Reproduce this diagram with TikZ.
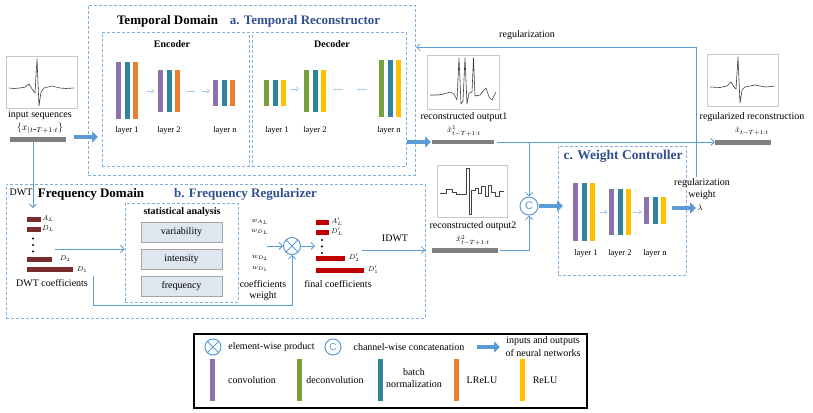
\documentclass[tikz,border=0pt]{standalone}
\usepackage{fontspec}
\setmainfont{Liberation Serif}
\newfontfamily\csans{Liberation Sans}
\usetikzlibrary{arrows.meta,calc}
\definecolor{dashblue}{HTML}{7FB0DE}
\definecolor{arrowblue}{HTML}{5B9BD5}
\definecolor{lightarrow}{HTML}{A9CBEA}
\definecolor{titleblue}{HTML}{2F4F8F}
\definecolor{cpurple}{HTML}{8B72A8}
\definecolor{cteal}{HTML}{31849B}
\definecolor{corange}{HTML}{ED7D31}
\definecolor{cyellow}{HTML}{FFC000}
\definecolor{cgreen}{HTML}{79A03F}
\definecolor{darkred}{HTML}{7B2C2C}
\definecolor{cred}{HTML}{C00000}
\definecolor{grayseq}{HTML}{808080}
\definecolor{statfill}{HTML}{DEE6F0}
\definecolor{imgborder}{HTML}{C8C8C8}
\newcommand\threebars[6]{%
  \fill[#4] (#1,#2) rectangle (#1+4.8,#3);
  \fill[#5] (#1+8.7,#2) rectangle (#1+13.5,#3);
  \fill[#6] (#1+17.4,#2) rectangle (#1+22.2,#3);}
\begin{document}
\begin{tikzpicture}[x=1pt,y=-1pt,
  dbox/.style={draw=dashblue,line width=0.9pt,dash pattern=on 3pt off 2pt},
  fat/.style={draw=arrowblue,line width=4.5pt,-{Triangle[length=6pt,width=11pt]}},
  conn/.style={draw=arrowblue,line width=0.8pt,-{Straight Barb[length=3.5pt,width=7pt]}},
  lconn/.style={draw=lightarrow,line width=0.7pt,-{Straight Barb[length=2.5pt,width=4pt]}},
  ldash/.style={draw=lightarrow,line width=0.7pt},
  lab/.style={font=\fontsize{10}{11}\selectfont,inner sep=0},
  small/.style={font=\fontsize{8.5}{9}\selectfont,inner sep=0},
  title/.style={font=\fontsize{13}{14}\selectfont\bfseries,inner sep=0},
  btitle/.style={title,text=titleblue},
  sub/.style={font=\fontsize{10}{11}\selectfont\bfseries,inner sep=0},
  imgbox/.style={draw=imgborder,line width=0.7pt,fill=white,inner sep=0},
  seqbar/.style={fill=grayseq,inner sep=0,minimum height=4.5pt},
  ecg/.style={draw=black!75,line width=0.6pt,line join=round},
  statbox/.style={draw=black!35,fill=statfill,line width=0.7pt,minimum width=81pt,minimum height=20pt,inner sep=0,font=\fontsize{10}{11}\selectfont},
  coef/.style={font=\fontsize{7.5}{8}\selectfont,inner sep=0},
  hat/.style={font=\fontsize{8.5}{9}\selectfont,inner sep=0},
  sym/.style={circle,draw=arrowblue,line width=1pt,inner sep=0},
]
\useasboundingbox (0,0) rectangle (813,412);

% ---------------- Temporal domain ----------------
\node[dbox,minimum width=327pt,minimum height=170pt,inner sep=0] (tdom) at (251.5,90) {};
\node[title] (ttitle) at (167.5,21) {Temporal Domain};
\node[btitle] (atitle) at (305,21) {a. Temporal Reconstructor};
\node[dbox,minimum width=147pt,minimum height=134pt,inner sep=0] (enc) at (175.5,99) {};
\node[dbox,minimum width=154pt,minimum height=134pt,inner sep=0] (dec) at (329,99) {};
\node[sub] (enct) at (172,44) {Encoder};
\node[sub] (dect) at (332,44) {Decoder};

% encoder layers
\threebars{116}{62}{119}{cpurple}{cteal}{corange}
\threebars{158}{70}{112}{cpurple}{cteal}{corange}
\threebars{213}{80}{106}{cpurple}{cteal}{corange}
\node[small] (e1) at (127,130) {layer 1};
\node[small] (e2) at (169,130) {layer 2};
\node[small] (en) at (225,130) {layer n};
\coordinate (ea1) at (147,91); \coordinate (ea2) at (154.5,91);
\coordinate (ea3) at (186,91); \coordinate (ea4) at (195,91);
\coordinate (ea5) at (202,91); \coordinate (ea6) at (210,91);
\draw[lconn] (ea1) -- (ea2);
\draw[ldash] (ea3) -- (ea4);
\draw[lconn] (ea5) -- (ea6);

% decoder layers
\threebars{264}{80}{106}{cgreen}{cteal}{cyellow}
\threebars{304}{70}{112}{cgreen}{cteal}{cyellow}
\threebars{379}{60}{117}{cgreen}{cteal}{cyellow}
\node[small] (d1) at (277,130) {layer 1};
\node[small] (d2) at (315,130) {layer 2};
\node[small] (dn) at (389,130) {layer n};
\coordinate (da1) at (290,89); \coordinate (da2) at (299,89);
\coordinate (da3) at (333,89); \coordinate (da4) at (343,89);
\coordinate (da5) at (357,89); \coordinate (da6) at (367,89);
\draw[lconn] (da1) -- (da2);
\draw[ldash] (da3) -- (da4);
\draw[ldash] (da5) -- (da6);

% ---------------- input sequences ----------------
\node[imgbox,minimum width=71pt,minimum height=52pt] (inimg) at (41.5,82) {};
\draw[ecg] (9,88) -- (14,88.5) -- (20,88) -- (25,87) -- (29,84) -- (32,89) -- (35,93) -- (37,59) -- (39,106) -- (41,92) -- (44,88) -- (48,87) -- (52,86) -- (56,87) -- (60,88) -- (66,88.5) -- (74,88);
\node[lab] (inl) at (40,115) {input sequences};
\node[lab] (inm) at (40,128.5) {$\{x_{|t\mbox{-}T+1:t}\}$};
\node[seqbar,minimum width=56pt] (inbar) at (38,139.5) {};
\coordinate (inar1) at (74,137);
\coordinate (inar2) at (98,137);
\draw[fat] (inar1) -- (inar2);
\coordinate (dwtdown) at (33,208);
\draw[conn] (inbar.south -| dwtdown) -- (dwtdown);

% ---------------- reconstructed output 1 ----------------
\node[imgbox,minimum width=72pt,minimum height=54pt] (o1img) at (463,82) {};
\draw[ecg] (430,95) -- (438,95) -- (444,94) -- (450,92) -- (454,94) -- (457,100) -- (459,58) -- (461,104) -- (463,101) -- (465,58) -- (467,104) -- (469,93) -- (472,92) -- (473.5,58) -- (475,96) -- (480,95) -- (484,90) -- (486,88) -- (489,97) -- (492,100) -- (496,92);
\node[lab] (o1l) at (464,117) {reconstructed output1};
\node[hat] (o1m) at (464,131) {$\hat{x}^{1}_{t-T+1:t}$};
\node[seqbar,minimum width=62pt] (o1bar) at (463,142) {};
\coordinate (decout1) at (407,142);
\coordinate (decout2) at (431,142);
\draw[fat] (decout1) -- (decout2);

% ---------------- regularized reconstruction ----------------
\node[imgbox,minimum width=71pt,minimum height=52pt] (rimg) at (742.5,80) {};
\draw[ecg] (710,87) -- (720,87.5) -- (727,86) -- (731,82) -- (734,87) -- (736,89) -- (738,57) -- (740,103) -- (742,90) -- (745,87) -- (750,86) -- (755,85) -- (760,86) -- (766,87) -- (775,86);
\node[lab] (rl) at (752,117) {regularized reconstruction};
\node[hat] (rm) at (752,131) {$\hat{x}_{t-T+1:t}$};
\node[seqbar,minimum width=56pt] (rbar) at (743,142.5) {};
\draw[conn] (o1bar.east) ++(3,0) coordinate (o1e) -- (rbar.west |- o1bar.east);

% ---------------- reconstructed output 2 ----------------
\node[imgbox,minimum width=70pt,minimum height=52pt] (o2img) at (472,191) {};
\draw[ecg] (440,193) -- (446,193) -- (446,189) -- (452,189) -- (452,192) -- (456,192) -- (456,194) -- (466,194) -- (466,168) -- (469,168) -- (469,214) -- (471,214) -- (471,190) -- (475,190) -- (475,188) -- (478,188) -- (478,193) -- (481,193) -- (481,186) -- (485,186) -- (485,196) -- (488,196) -- (488,185) -- (491,185) -- (491,192) -- (495,192) -- (495,196) -- (499,196) -- (499,191) -- (504,191);
\node[lab] (o2l) at (473,226) {reconstructed output2};
\node[hat] (o2m) at (473,240.5) {$\hat{x}^{2}_{t-T+1:t}$};
\node[seqbar,minimum width=66pt] (o2bar) at (465,250.5) {};

% concat
\node[sym,minimum size=18pt,text=arrowblue,font=\csans\fontsize{11}{11}\selectfont] (cc) at (529,206) {C};
\coordinate (br) at (529,142);
\draw[conn] (br) -- (cc.north);
\draw[conn] (o2bar.east) ++(2,0) -| (cc.south);

% ---------------- weight controller ----------------
\node[dbox,minimum width=128pt,minimum height=129pt,inner sep=0] (wc) at (622,210.5) {};
\node[btitle,font=\fontsize{13.5}{14}\selectfont\bfseries] (ctitle) at (623,156) {c. Weight Controller};
\threebars{573}{183}{241}{cpurple}{cteal}{cyellow}
\threebars{609}{189}{235}{cpurple}{cteal}{cyellow}
\threebars{644}{197}{224}{cpurple}{cteal}{cyellow}
\node[small] (w1) at (586,253) {layer 1};
\node[small] (w2) at (620,253) {layer 2};
\node[small] (wn) at (655,253) {layer n};
\coordinate (wa1) at (600,212); \coordinate (wa2) at (607.5,212);
\coordinate (wa3) at (633,212); \coordinate (wa4) at (642,212);
\draw[lconn] (wa1) -- (wa2);
\draw[lconn] (wa3) -- (wa4);
\coordinate (wcin) at (563,206);
\draw[fat] (cc.east) -- (wcin);
\coordinate (wco1) at (672,208);
\coordinate (wco2) at (696,208);
\draw[fat] (wco1) -- (wco2);
\node[lab] (rw1) at (702,183) {regularization};
\node[lab] (rw2) at (702,195) {weight};
\node[hat] (lam) at (700,208) {$\lambda$};

% feedback
\coordinate (fb1) at (696,177);
\coordinate (fb2) at (416,47);
\draw[conn] (fb1) |- (fb2);
\node[lab] (regl) at (527,35) {regularization};

% ---------------- frequency domain ----------------
\node[dbox,minimum width=419pt,minimum height=134pt,inner sep=0] (fdom) at (215.5,251) {};
\node[lab] (dwtl) at (21,192.5) {DWT};
\node[title] (ftitle) at (91,194) {Frequency Domain};
\node[btitle] (btitle) at (245.5,194) {b. Frequency Regularizer};

% statistical analysis
\node[dbox,minimum width=113pt,minimum height=99pt,inner sep=0] (stat) at (181.5,252.5) {};
\node[sub] (statl) at (182,212) {statistical analysis};
\node[statbox] (var) at (181.5,232) {variability};
\node[statbox] (int) at (181.5,259) {intensity};
\node[statbox] (fre) at (181.5,286.5) {frequency};

% DWT coefficients
\fill[darkred] (27,217) rectangle (41,221.5);
\fill[darkred] (27,227) rectangle (41,231.5);
\fill[black] (33,238.5) circle (1.2) (33,245) circle (1.2) (33,251.5) circle (1.2);
\fill[darkred] (27,257) rectangle (52,261.5);
\fill[darkred] (27,267) rectangle (73,271.5);
\node[coef] (al) at (48,218.5) {$A_L$};
\node[coef] (dl) at (48,228.5) {$D_L$};
\node[coef] (d2) at (65,259) {$D_2$};
\node[coef] (d1) at (82,270) {$D_1$};
\node[lab] (dwtc) at (52,283) {DWT coefficients};
\coordinate (dc1) at (55,249);
\draw[conn] (dc1) -- (stat.west |- dc1);

% weights and product
\node[coef] (wal) at (260,222) {$w_{A_L}$};
\node[coef] (wdl) at (260,232) {$w_{D_L}$};
\node[coef] (wd2) at (260,258) {$w_{D_2}$};
\node[coef] (wd1) at (260,269) {$w_{D_1}$};
\node[lab] (cw1) at (263,284) {coefficients};
\node[lab] (cw2) at (263,296) {weight};
\node[sym,minimum size=17pt] (ot) at (292,246) {};
\draw[arrowblue,line width=1pt] (ot.north east) -- (ot.south west) (ot.north west) -- (ot.south east);
\coordinate (win) at (267,246);
\draw[conn] (win) -- (ot.west);
\coordinate (dd1) at (93,276);
\draw[conn] (dd1) -- (93,305) -| (ot.south);
\coordinate (fin) at (315,246);
\draw[conn] (ot.east) -- (fin);

% final coefficients
\fill[cred] (316,220) rectangle (329,224.5);
\fill[cred] (316,230) rectangle (329,234.5);
\fill[black] (322,240) circle (1.2) (322,246.5) circle (1.2) (322,253) circle (1.2);
\fill[cred] (316,256) rectangle (345,260.5);
\fill[cred] (316,268) rectangle (364,272.5);
\node[coef] (fal) at (337,222) {$A'_L$};
\node[coef] (fdl) at (337,232) {$D'_L$};
\node[coef] (fd2) at (354,258) {$D'_2$};
\node[coef] (fd1) at (373,270) {$D'_1$};
\node[lab] (finl) at (338,284) {final coefficients};
\node[lab] (idwt) at (395,238) {IDWT};
\coordinate (id1) at (362,250);
\draw[conn] (id1) -- (fdom.east |- id1);

% ---------------- legend ----------------
\node[draw=black,line width=1.3pt,minimum width=393pt,minimum height=74pt,inner sep=0] (leg) at (390.5,371) {};
\node[sym,minimum size=16pt] (lot) at (213,347) {};
\draw[arrowblue,line width=1pt] (lot.north east) -- (lot.south west) (lot.north west) -- (lot.south east);
\node[lab] (lotl) at (271.5,347) {element-wise product};
\node[sym,minimum size=16pt,text=arrowblue,font=\csans\fontsize{10}{10}\selectfont] (lcc) at (333,347) {C};
\node[lab] (lccl) at (409,347) {channel-wise concatenation};
\coordinate (la1) at (477,347); \coordinate (la2) at (500,347);
\draw[fat] (la1) -- (la2);
\node[lab] (lio1) at (543,341) {inputs and outputs};
\node[lab] (lio2) at (543,353) {of neural networks};
\fill[cpurple] (210,359) rectangle (215,401);
\node[lab] (lconv) at (252,380) {convolution};
\fill[cgreen] (297,359) rectangle (301.5,401);
\node[lab] (ldeconv) at (335,380) {deconvolution};
\fill[cteal] (378,359) rectangle (383,401);
\node[lab] (lbn1) at (414,372) {batch};
\node[lab] (lbn2) at (414,384) {normalization};
\fill[corange] (454,359) rectangle (459,401);
\node[lab] (llrelu) at (482,380) {LReLU};
\fill[cyellow] (520,359) rectangle (525,401);
\node[lab] (lrelu) at (545,380) {ReLU};
\end{tikzpicture}
\end{document}
